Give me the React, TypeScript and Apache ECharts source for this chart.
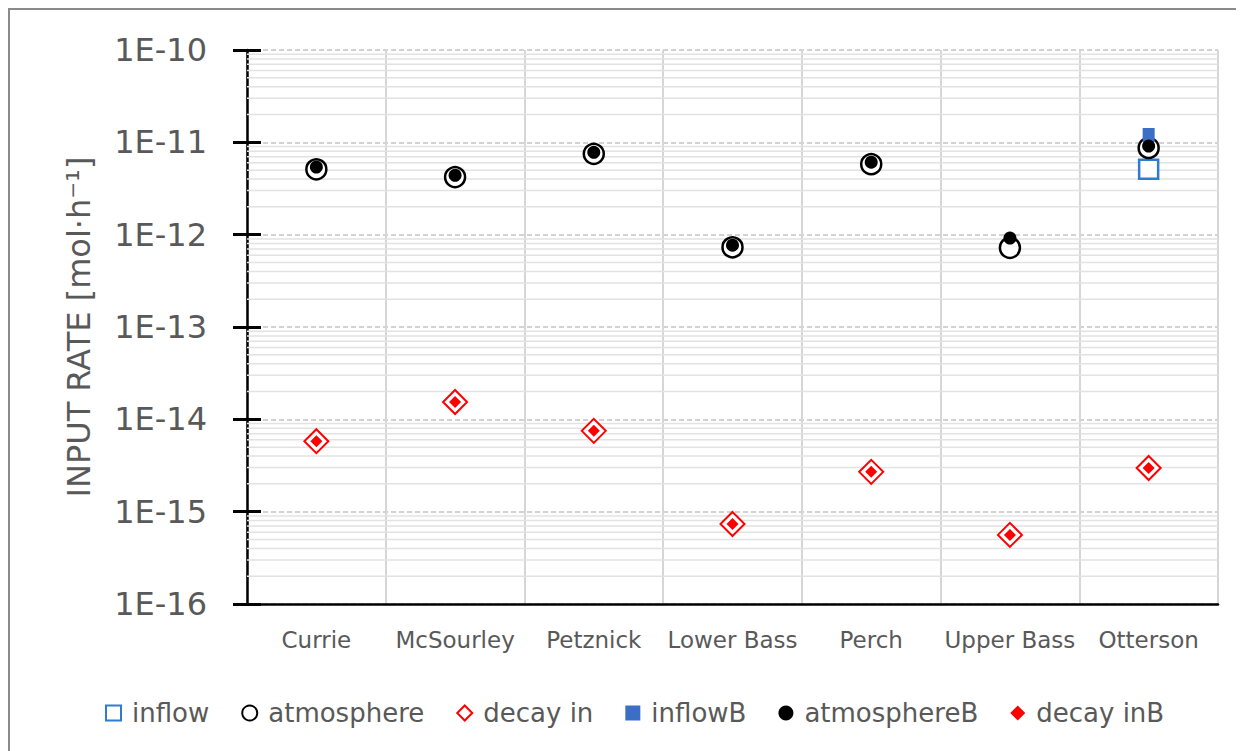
import React, { useEffect, useRef } from "react";
import * as echarts from "echarts";

const categories = ["Currie", "McSourley", "Petznick", "Lower Bass", "Perch", "Upper Bass", "Otterson"];
const inflow = [null, null, null, null, null, null, 5.1e-12];
const atmosphere = [5.1e-12, 4.2e-12, 7.5e-12, 7.3e-13, 5.8e-12, 7.2e-13, 8.7e-12];
const decayIn = [5.8e-15, 1.54e-14, 7.5e-15, 7.35e-16, 2.7e-15, 5.6e-16, 2.97e-15];
const inflowB = [null, null, null, null, null, null, 1.2e-11];
const atmosphereB = [5.4e-12, 4.4e-12, 7.8e-12, 7.7e-13, 6.1e-12, 9.2e-13, 9.1e-12];
const decayInB = [5.8e-15, 1.54e-14, 7.5e-15, 7.35e-16, 2.7e-15, 5.6e-16, 2.97e-15];
const yMin = 1e-16;
const yMax = 1e-10;
const minorMultipliers = [2, 3, 4, 5, 6, 7, 8, 9];
const decadeExponents = [-16, -15, -14, -13, -12, -11];

const FONT = "DejaVu Sans";
const TEXT = "#595959";

export default function App() {
  const ref = useRef<HTMLDivElement>(null);
  useEffect(() => {
    if (!ref.current) return;
    const chart = echarts.init(ref.current, null, { renderer: "svg" });
    // minor log grid lines (2..9 within each decade)
    const minorLines: any[] = [];
    decadeExponents.forEach((e) => {
      minorMultipliers.forEach((m) => {
        minorLines.push([0, m * Math.pow(10, e)]);
      });
    });
    chart.setOption({
      animation: false,
      backgroundColor: "#fff",
      textStyle: { fontFamily: FONT },
      grid: { left: 237, top: 40, width: 971, height: 554, containLabel: false },
      legend: {
        bottom: 20,
        left: 90,
        itemGap: 32,
        itemWidth: 15,
        itemHeight: 15,
        textStyle: { fontSize: 26, color: TEXT, fontFamily: FONT, padding: [0, 0, 0, 6] },
        data: ["inflow", "atmosphere", "decay in", "inflowB", "atmosphereB", "decay inB"],
      },
      xAxis: {
        type: "category",
        data: categories,
        boundaryGap: true,
        axisLine: { show: true, onZero: false, lineStyle: { color: "#000", width: 2.5 } },
        axisTick: { show: false },
        axisLabel: { fontSize: 23, color: TEXT, margin: 24, fontFamily: FONT, interval: 0 },
        splitLine: { show: true, interval: 0, lineStyle: { color: "#d6d6d6", width: 2 } },
      },
      yAxis: [
        {
          type: "log",
          logBase: 10,
          min: yMin,
          max: yMax,
          splitNumber: 6,
          name: "INPUT RATE [mol·h⁻¹]",
          nameLocation: "middle",
          nameGap: 152,
          nameTextStyle: { fontSize: 32, color: TEXT, fontFamily: FONT },
          axisLine: { show: true, lineStyle: { color: "#000", width: 2.5 } },
          axisTick: { show: true, length: 14, lineStyle: { color: "#000", width: 3 } },
          axisLabel: {
            fontSize: 32,
            color: TEXT,
            margin: 40,
            fontFamily: FONT,
            formatter: (v: number) => "1E" + Math.round(Math.log10(v)),
          },
          splitLine: { show: true, lineStyle: { color: "#c4c4c4", width: 1.5, type: [5, 3] } },
        },
        {
          type: "log",
          logBase: 10,
          min: yMin,
          max: yMax,
          splitNumber: 6,
          position: "left",
          axisLine: { show: false },
          axisTick: { show: true, inside: true, length: 14, lineStyle: { color: "#000", width: 3 } },
          axisLabel: { show: false },
          splitLine: { show: false },
        },
      ],
      series: [
        {
          name: "minorGrid",
          type: "custom",
          silent: true,
          z: 1,
          data: minorLines,
          encode: { x: 0, y: 1 },
          renderItem: (params: any, api: any) => {
            const pt = api.coord([api.value(0), api.value(1)]);
            const cs = params.coordSys;
            return {
              type: "line",
              shape: { x1: cs.x, y1: pt[1], x2: cs.x + cs.width, y2: pt[1] },
              style: { stroke: "#e2e2e2", lineWidth: 1.5 },
            };
          },
        },
        {
          name: "inflow",
          type: "scatter",
          data: inflow,
          symbol: "rect",
          symbolSize: 19,
          z: 3,
          itemStyle: { color: "#ffffff", borderColor: "#2e7bd0", borderWidth: 2.5, opacity: 1 },
        },
        {
          name: "atmosphere",
          type: "scatter",
          data: atmosphere,
          symbol: "circle",
          symbolSize: 20,
          z: 3,
          itemStyle: { color: "#ffffff", borderColor: "#000000", borderWidth: 2.5, opacity: 1 },
        },
        {
          name: "decay in",
          type: "scatter",
          data: decayIn,
          symbol: "diamond",
          symbolSize: 24,
          z: 3,
          itemStyle: { color: "#ffffff", borderColor: "#ff0000", borderWidth: 2, opacity: 1 },
        },
        {
          name: "inflowB",
          type: "scatter",
          data: inflowB,
          symbol: "rect",
          symbolSize: [12, 14],
          z: 4,
          itemStyle: { color: "#3b6fc6", opacity: 1 },
        },
        {
          name: "atmosphereB",
          type: "scatter",
          data: atmosphereB,
          symbol: "circle",
          symbolSize: 13,
          z: 4,
          itemStyle: { color: "#000000", opacity: 1 },
        },
        {
          name: "decay inB",
          type: "scatter",
          data: decayInB,
          symbol: "diamond",
          symbolSize: 12,
          z: 4,
          itemStyle: { color: "#ff0000", opacity: 1 },
        },
      ],
    });
    return () => chart.dispose();
  }, []);
  return (
    <div
      style={{
        width: 1236,
        height: 743,
        boxSizing: "border-box",
        borderLeft: "2px solid #8a8a8a",
        borderTop: "2px solid #8a8a8a",
        background: "#fff",
      }}
    >
      <div ref={ref} style={{ width: 1234, height: 741 }} />
    </div>
  );
}
